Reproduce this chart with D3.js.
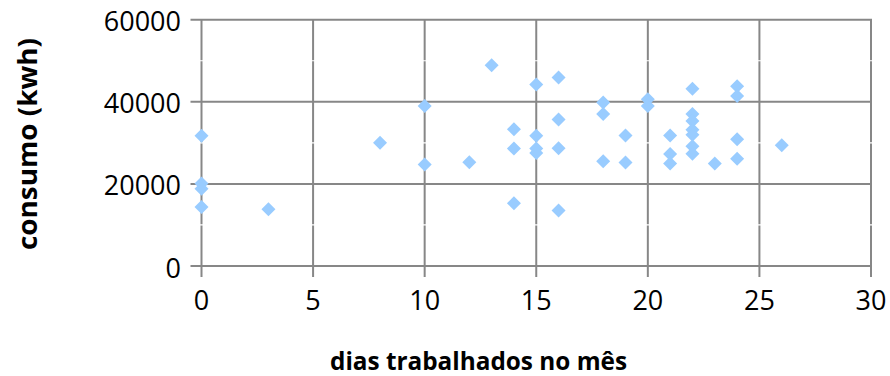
<!DOCTYPE html>
<html>
<head>
<meta charset="utf-8">
<script src="https://cdn.jsdelivr.net/npm/d3@7"></script>
<style>
  html, body { margin: 0; padding: 0; background: #fff; }
  svg { display: block; }
</style>
</head>
<body>
<svg id="chart" width="890" height="376"></svg>
<script>
// Working days in the month (x) and electricity consumption in kWh (y)
const dias = [
  0, 0, 0, 0,
  3,
  8,
  10, 10,
  12,
  13,
  14, 14, 14,
  15, 15, 15, 15,
  16, 16, 16, 16,
  18, 18, 18,
  19, 19,
  20, 20,
  21, 21, 21,
  22, 22, 22, 22, 22, 22, 22,
  23,
  24, 24, 24, 24,
  26
];
const consumo = [
  31700, 20100, 18800, 14400,
  13800,
  30000,
  39000, 24700,
  25300,
  48900,
  33300, 28600, 15300,
  44200, 31700, 28650, 27500,
  45950, 35700, 28700, 13500,
  39800, 37000, 25500,
  31800, 25200,
  40600, 39000,
  31800, 27300, 25000,
  43150, 37000, 35300, 33200, 31950, 29150, 27350,
  25000,
  43800, 41400, 30900, 26100,
  29400
];
const xTicks = [0, 5, 10, 15, 20, 25, 30];
const yTicks = [0, 20000, 40000, 60000];
const yMinor = [10000, 30000, 50000];
const xTitle = "dias trabalhados no mês";
const yTitle = "consumo (kwh)";

const svg = d3.select("#chart");
const x = d3.scaleLinear().domain([0, 30]).range([201.5, 871]);
const y = d3.scaleLinear().domain([0, 60000]).range([266, 19.7]);

const gridColor = "#878787";
const font = "'Open Sans', 'Liberation Sans', sans-serif";

// vertical gridlines with outer tick marks below the plot
svg.append("g").selectAll("line").data(xTicks).join("line")
  .attr("x1", d => x(d)).attr("x2", d => x(d))
  .attr("y1", y(60000)).attr("y2", y(0) + 11)
  .attr("stroke", gridColor).attr("stroke-width", 2);

// white minor gridlines cut thin gaps into the vertical lines
svg.append("g").selectAll("line").data(yMinor).join("line")
  .attr("x1", x(0) - 2).attr("x2", x(30) + 2)
  .attr("y1", d => y(d)).attr("y2", d => y(d))
  .attr("stroke", "#fff").attr("stroke-width", 1.2);

// horizontal gridlines with outer tick marks left of the plot
svg.append("g").selectAll("line").data(yTicks).join("line")
  .attr("x1", x(0) - 11).attr("x2", x(30) + 1)
  .attr("y1", d => y(d)).attr("y2", d => y(d))
  .attr("stroke", gridColor).attr("stroke-width", 2);

// tick labels
svg.append("g").selectAll("text").data(yTicks).join("text")
  .attr("x", 181).attr("y", d => y(d) + 11.5)
  .attr("text-anchor", "end")
  .attr("font-family", font).attr("font-size", 27).attr("fill", "#000")
  .text(d => d);

svg.append("g").selectAll("text").data(xTicks).join("text")
  .attr("x", d => x(d)).attr("y", 310)
  .attr("text-anchor", "middle")
  .attr("font-family", font).attr("font-size", 27).attr("fill", "#000")
  .text(d => d);

// axis titles
svg.append("text")
  .attr("x", 330).attr("y", 370)
  .attr("font-family", font).attr("font-size", 25.5).attr("font-weight", "bold")
  .attr("textLength", 297).attr("lengthAdjust", "spacingAndGlyphs")
  .text(xTitle);

svg.append("text")
  .attr("transform", "translate(37,250) rotate(-90)")
  .attr("x", 0).attr("y", 0)
  .attr("font-family", font).attr("font-size", 27).attr("font-weight", "bold")
  .attr("textLength", 212).attr("lengthAdjust", "spacingAndGlyphs")
  .text(yTitle);

// diamond markers
const pts = dias.map((d, i) => ({ x: d, y: consumo[i] }));
svg.append("g").selectAll("path").data(pts).join("path")
  .attr("transform", d => `translate(${x(d.x)},${y(d.y)})`)
  .attr("d", "M0,-7L7,0L0,7L-7,0Z")
  .attr("fill", "#99CCFF");
</script>
</body>
</html>
